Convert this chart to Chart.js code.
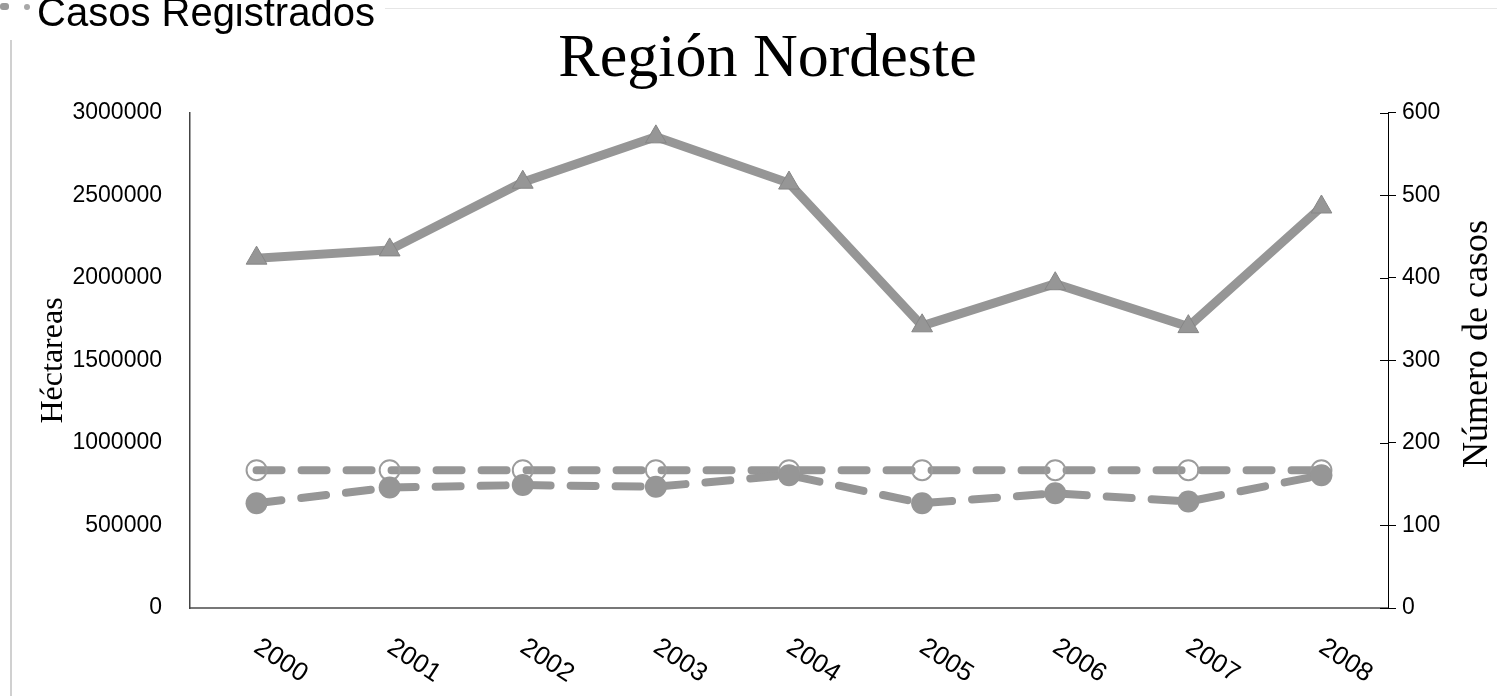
<!DOCTYPE html>
<html>
<head>
<meta charset="utf-8">
<title>Región Nordeste</title>
<script src="https://cdn.jsdelivr.net/npm/chart.js@4"></script>
<style>
    html, body { margin: 0; padding: 0; background: #fff; }
    #wrap { position: relative; width: 1497px; height: 696px; overflow: hidden; }
    #chart { position: absolute; left: 0; top: 0; }
    .header {
        position: absolute; left: 37px; top: -11px;
        font: 40px/46px 'Liberation Sans', Arial, sans-serif; color: #000; white-space: nowrap; z-index: 2;
    }
    .rule-top { position: absolute; left: 385px; right: 0; top: 8px; border-top: 1px solid #e6e6e6; }
    .rule-left { position: absolute; left: 10px; top: 40px; bottom: 0; border-left: 2px solid #d0d0d0; }
    .mark-a { position: absolute; left: 0; top: 3px; width: 9px; height: 7px; background: #9a9a9a; border-radius: 3px; }
    .mark-b { position: absolute; left: 24px; top: 4px; width: 6px; height: 6px; background: #a8a8a8; border-radius: 50%; }
</style>
</head>
<body>
<div id="wrap">
    <canvas id="chart" width="1497" height="696"></canvas>
    <div class="rule-top"></div>
    <div class="rule-left"></div>
    <div class="mark-a"></div>
    <div class="mark-b"></div>
    <div class="header">Casos Registrados</div>
</div>
<script>
// data
const years = ['2000', '2001', '2002', '2003', '2004', '2005', '2006', '2007', '2008'];
const hectareas = [2120000, 2170000, 2580000, 2855000, 2575000, 1710000, 1965000, 1705000, 2430000];
const casos = [127, 146, 149, 147, 161, 127, 139, 129, 161];
const casosPromedio = [167, 167, 167, 167, 167, 167, 167, 167, 167];

const gray = '#969696';
const sans = "'Liberation Sans', Arial, sans-serif";
const serif = "'Liberation Serif', 'Times New Roman', serif";

// rotated year labels, inward ticks on the right axis, right axis title reading upward
const extras = {
    id: 'extras',
    afterDraw(chart) {
        const { ctx, chartArea, scales: { x, y1 } } = chart;
        ctx.save();
        ctx.font = '26px ' + sans;
        ctx.fillStyle = '#000';
        ctx.textAlign = 'left';
        ctx.textBaseline = 'alphabetic';
        years.forEach((label, i) => {
            const px = x.getPixelForTick(i);
            ctx.save();
            ctx.translate(px - 4, chartArea.bottom + 43);
            ctx.rotate(33 * Math.PI / 180);
            ctx.fillText(label, 0, 0);
            ctx.restore();
        });

        ctx.strokeStyle = '#000';
        ctx.lineWidth = 1;
        y1.ticks.forEach(t => {
            const py = Math.round(y1.getPixelForValue(t.value)) + 0.5;
            ctx.beginPath();
            ctx.moveTo(chartArea.right - 8, py);
            ctx.lineTo(chartArea.right, py);
            ctx.stroke();
        });

        ctx.font = '36px ' + serif;
        ctx.textAlign = 'center';
        ctx.textBaseline = 'middle';
        ctx.translate(1478, 344);
        ctx.rotate(-Math.PI / 2);
        ctx.fillText('Número de casos', 0, 0);
        ctx.restore();
    }
};

new Chart(document.getElementById('chart').getContext('2d'), {
    type: 'line',
    data: {
        labels: years,
        datasets: [
            {
                label: 'Héctareas',
                data: hectareas,
                yAxisID: 'y',
                borderColor: gray,
                borderWidth: 9,
                tension: 0,
                pointStyle: 'triangle',
                pointRadius: 12,
                pointBackgroundColor: gray,
                pointBorderColor: '#868686',
                pointBorderWidth: 1
            },
            {
                label: 'Casos Registrados',
                data: casos,
                yAxisID: 'y1',
                borderColor: gray,
                borderWidth: 8,
                borderDash: [25, 20],
                borderCapStyle: 'round',
                tension: 0,
                pointStyle: 'circle',
                pointRadius: 11,
                pointBackgroundColor: gray,
                pointBorderColor: gray,
                pointBorderWidth: 0
            },
            {
                label: 'Promedio',
                data: casosPromedio,
                yAxisID: 'y1',
                borderColor: gray,
                borderWidth: 8,
                borderDash: [25, 20],
                borderCapStyle: 'round',
                tension: 0,
                pointStyle: 'circle',
                pointRadius: 10,
                pointBackgroundColor: 'rgba(255, 255, 255, 0)',
                pointBorderColor: '#9c9c9c',
                pointBorderWidth: 2
            }
        ]
    },
    options: {
        responsive: false,
        animation: false,
        layout: { padding: { left: 38, right: 0, top: 24, bottom: 0 } },
        plugins: {
            legend: { display: false },
            tooltip: { enabled: false },
            title: {
                display: true,
                text: 'Región Nordeste',
                color: '#000',
                font: { family: serif, size: 62, weight: 'normal', lineHeight: 1.16 },
                padding: { top: 0, bottom: 17 }
            }
        },
        scales: {
            x: {
                offset: true,
                grid: { display: false },
                border: { display: true, color: '#777', width: 2 },
                ticks: { display: false },
                afterFit(s) { s.height = 88; }
            },
            y: {
                position: 'left',
                min: 0,
                max: 3000000,
                ticks: {
                    stepSize: 500000,
                    padding: 20,
                    color: '#000',
                    font: { family: sans, size: 23 },
                    callback: v => String(v)
                },
                grid: { display: false },
                border: { display: true, color: '#444', width: 1.5 },
                title: {
                    display: true,
                    text: 'Héctareas',
                    color: '#000',
                    font: { family: serif, size: 32, lineHeight: 1 },
                    padding: 0
                },
                afterFit(s) { s.width = 152; }
            },
            y1: {
                position: 'right',
                min: 0,
                max: 600,
                ticks: {
                    stepSize: 100,
                    padding: 6,
                    color: '#000',
                    font: { family: sans, size: 23 }
                },
                grid: { display: true, drawOnChartArea: false, tickLength: 8, color: '#000' },
                border: { display: true, color: '#000', width: 1 },
                afterFit(s) { s.width = 109; }
            }
        }
    },
    plugins: [extras]
});
</script>
</body>
</html>
